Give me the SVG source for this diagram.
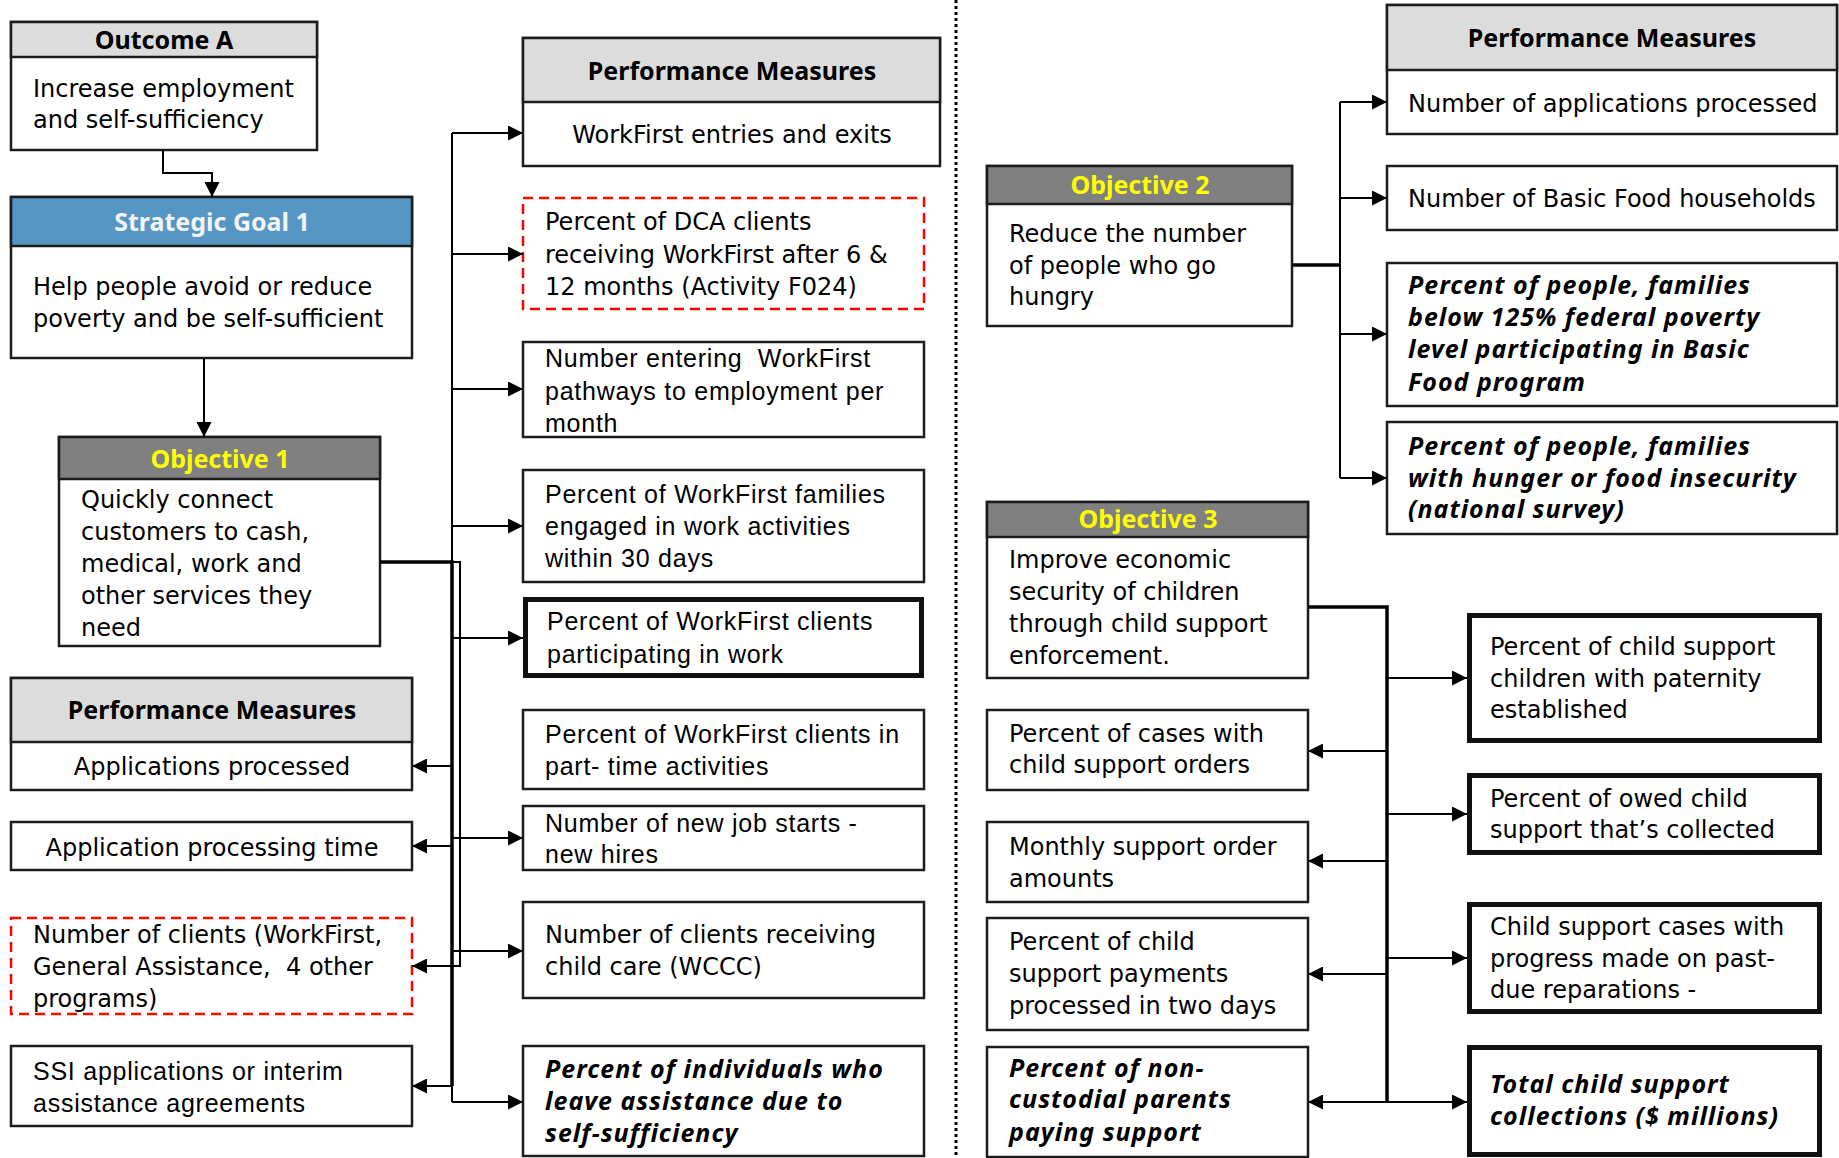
<svg xmlns="http://www.w3.org/2000/svg" width="1839" height="1158" viewBox="0 0 1839 1158">
  <style>
    .box { fill: #fff; stroke: #1c1c1c; stroke-width: 2.5; }
    .heavy { fill: #fff; stroke: #111; stroke-width: 5; }
    .dash { fill: #fff; stroke: #ff0000; stroke-width: 2.5; stroke-dasharray: 10 6; }
    .hg { fill: #dcdcdc; stroke: #1c1c1c; stroke-width: 2.5; }
    .ho { fill: #808080; stroke: #1c1c1c; stroke-width: 2.5; }
    .hb { fill: #5596c4; stroke: #1c1c1c; stroke-width: 2.5; }
    .t { font-family: "DejaVu Sans", sans-serif; font-size: 24px; fill: #000; white-space: pre; }
    .h { font-family: "Liberation Sans", Arial, sans-serif; font-size: 25px; letter-spacing: 0.75px; fill: #000; white-space: pre; }
    .b { font-family: "Noto Sans", sans-serif; font-weight: 700; font-size: 25px; fill: #000; }
    .bi { font-family: "Noto Sans", sans-serif; font-weight: 700; font-style: italic; font-size: 25px; letter-spacing: 1px; fill: #000; }
    .yel { fill: #ffff00; }
    .wht { fill: #f4f4f4; }
    .c { text-anchor: middle; }
    .ln { fill: none; stroke: #000; stroke-width: 2; }
    .lnk { fill: none; stroke: #000; stroke-width: 3.5; }
  </style>
  <defs>
    <marker id="arr" markerUnits="userSpaceOnUse" markerWidth="15" markerHeight="15" refX="15" refY="7.5" orient="auto">
      <path d="M0,0 L15,7.5 L0,15 Z" fill="#000"/>
    </marker>
  </defs>

  <!-- divider between the two halves -->
  <line x1="956" y1="0" x2="956" y2="1158" stroke="#000" stroke-width="3" stroke-dasharray="3 3"/>

  <!-- ===== left half ===== -->
  <g id="outcome-a">
    <rect class="box" x="11" y="22" width="306" height="128"/>
    <rect class="hg" x="11" y="22" width="306" height="35"/>
    <text class="b c" x="164" y="49">Outcome A</text>
    <text class="t" x="33" y="97">Increase employment</text>
    <text class="t" x="33" y="128">and self-sufficiency</text>
  </g>

  <g id="strategic-goal-1">
    <rect class="box" x="11" y="197" width="401" height="161"/>
    <rect class="hb" x="11" y="197" width="401" height="49"/>
    <text class="b c wht" x="212" y="231">Strategic Goal 1</text>
    <text class="t" x="33" y="295">Help people avoid or reduce</text>
    <text class="t" x="33" y="327">poverty and be self-sufficient</text>
  </g>

  <g id="objective-1">
    <rect class="box" x="59" y="437" width="321" height="209"/>
    <rect class="ho" x="59" y="437" width="321" height="42"/>
    <text class="b c yel" x="220" y="468">Objective 1</text>
    <text class="t" x="81" y="508">Quickly connect</text>
    <text class="t" x="81" y="540">customers to cash,</text>
    <text class="t" x="81" y="572">medical, work and</text>
    <text class="t" x="81" y="604">other services they</text>
    <text class="t" x="81" y="636">need</text>
  </g>

  <g id="pm-left">
    <rect class="box" x="11" y="678" width="401" height="112"/>
    <rect class="hg" x="11" y="678" width="401" height="64"/>
    <text class="b c" x="212" y="719">Performance Measures</text>
    <text class="t c" x="212" y="775">Applications processed</text>
  </g>

  <g id="application-time">
    <rect class="box" x="11" y="822" width="401" height="48"/>
    <text class="t c" x="212" y="856">Application processing time</text>
  </g>

  <g id="clients-count">
    <rect class="dash" x="11" y="918" width="401" height="96"/>
    <text class="t" x="33" y="943">Number of clients (WorkFirst,</text>
    <text class="t" x="33" y="975">General Assistance,  4 other</text>
    <text class="t" x="33" y="1007">programs)</text>
  </g>

  <g id="ssi">
    <rect class="box" x="11" y="1046" width="401" height="80"/>
    <text class="h" x="33" y="1080">SSI applications or interim</text>
    <text class="h" x="33" y="1112">assistance agreements</text>
  </g>

  <g id="pm-middle">
    <rect class="box" x="523" y="38" width="417" height="128"/>
    <rect class="hg" x="523" y="38" width="417" height="64"/>
    <text class="b c" x="732" y="80">Performance Measures</text>
    <text class="t c" x="732" y="143">WorkFirst entries and exits</text>
  </g>

  <g id="dca-clients">
    <rect class="dash" x="523" y="198" width="401" height="111"/>
    <text class="t" x="545" y="230">Percent of DCA clients</text>
    <text class="t" x="545" y="263">receiving WorkFirst after 6 &amp;</text>
    <text class="t" x="545" y="295">12 months (Activity F024)</text>
  </g>

  <g id="pathways">
    <rect class="box" x="523" y="342" width="401" height="95"/>
    <text class="h" x="545" y="367">Number entering  WorkFirst</text>
    <text class="h" x="545" y="400">pathways to employment per</text>
    <text class="h" x="545" y="432">month</text>
  </g>

  <g id="families-engaged">
    <rect class="box" x="523" y="470" width="401" height="112"/>
    <text class="h" x="545" y="503">Percent of WorkFirst families</text>
    <text class="h" x="545" y="535">engaged in work activities</text>
    <text class="h" x="545" y="567">within 30 days</text>
  </g>

  <g id="clients-working">
    <rect class="heavy" x="525.5" y="599.5" width="396" height="76"/>
    <text class="h" x="547" y="630">Percent of WorkFirst clients</text>
    <text class="h" x="547" y="663">participating in work</text>
  </g>

  <g id="part-time">
    <rect class="box" x="523" y="710" width="401" height="79"/>
    <text class="h" x="545" y="743">Percent of WorkFirst clients in</text>
    <text class="h" x="545" y="775">part- time activities</text>
  </g>

  <g id="new-job-starts">
    <rect class="box" x="523" y="806" width="401" height="64"/>
    <text class="h" x="545" y="832">Number of new job starts -</text>
    <text class="h" x="545" y="863">new hires</text>
  </g>

  <g id="child-care">
    <rect class="box" x="523" y="902" width="401" height="96"/>
    <text class="t" x="545" y="943">Number of clients receiving</text>
    <text class="t" x="545" y="975">child care (WCCC)</text>
  </g>

  <g id="leave-assistance">
    <rect class="box" x="523" y="1046" width="401" height="110"/>
    <text class="bi" x="545" y="1078">Percent of individuals who</text>
    <text class="bi" x="545" y="1110">leave assistance due to</text>
    <text class="bi" x="545" y="1142">self-sufficiency</text>
  </g>

  <!-- ===== right half ===== -->
  <g id="pm-right">
    <rect class="box" x="1387" y="5" width="450" height="129"/>
    <rect class="hg" x="1387" y="5" width="450" height="65"/>
    <text class="b c" x="1612" y="47">Performance Measures</text>
    <text class="t" x="1408" y="112">Number of applications processed</text>
  </g>

  <g id="basic-food">
    <rect class="box" x="1387" y="166" width="450" height="64"/>
    <text class="t" x="1408" y="207">Number of Basic Food households</text>
  </g>

  <g id="below-poverty">
    <rect class="box" x="1387" y="263" width="450" height="143"/>
    <text class="bi" x="1408" y="294">Percent of people, families</text>
    <text class="bi" x="1408" y="326">below 125% federal poverty</text>
    <text class="bi" x="1408" y="358">level participating in Basic</text>
    <text class="bi" x="1408" y="391">Food program</text>
  </g>

  <g id="food-insecurity">
    <rect class="box" x="1387" y="422" width="450" height="112"/>
    <text class="bi" x="1408" y="455">Percent of people, families</text>
    <text class="bi" x="1408" y="487">with hunger or food insecurity</text>
    <text class="bi" x="1408" y="518">(national survey)</text>
  </g>

  <g id="objective-2">
    <rect class="box" x="987" y="166" width="305" height="160"/>
    <rect class="ho" x="987" y="166" width="305" height="38"/>
    <text class="b c yel" x="1140" y="194">Objective 2</text>
    <text class="t" x="1009" y="242">Reduce the number</text>
    <text class="t" x="1009" y="274">of people who go</text>
    <text class="t" x="1009" y="305">hungry</text>
  </g>

  <g id="objective-3">
    <rect class="box" x="987" y="502" width="321" height="176"/>
    <rect class="ho" x="987" y="502" width="321" height="35"/>
    <text class="b c yel" x="1148" y="528">Objective 3</text>
    <text class="t" x="1009" y="568">Improve economic</text>
    <text class="t" x="1009" y="600">security of children</text>
    <text class="t" x="1009" y="632">through child support</text>
    <text class="t" x="1009" y="664">enforcement.</text>
  </g>

  <g id="support-orders">
    <rect class="box" x="987" y="710" width="321" height="80"/>
    <text class="t" x="1009" y="742">Percent of cases with</text>
    <text class="t" x="1009" y="773">child support orders</text>
  </g>

  <g id="monthly-orders">
    <rect class="box" x="987" y="822" width="321" height="80"/>
    <text class="t" x="1009" y="855">Monthly support order</text>
    <text class="t" x="1009" y="887">amounts</text>
  </g>

  <g id="payments-processed">
    <rect class="box" x="987" y="918" width="321" height="112"/>
    <text class="t" x="1009" y="950">Percent of child</text>
    <text class="t" x="1009" y="982">support payments</text>
    <text class="t" x="1009" y="1014">processed in two days</text>
  </g>

  <g id="parents-paying">
    <rect class="box" x="987" y="1047" width="321" height="110"/>
    <text class="bi" x="1009" y="1077">Percent of non-</text>
    <text class="bi" x="1009" y="1108">custodial parents</text>
    <text class="bi" x="1009" y="1141">paying support</text>
  </g>

  <g id="paternity">
    <rect class="heavy" x="1469.5" y="615.5" width="350" height="125"/>
    <text class="t" x="1490" y="655">Percent of child support</text>
    <text class="t" x="1490" y="687">children with paternity</text>
    <text class="t" x="1490" y="718">established</text>
  </g>

  <g id="owed-collected">
    <rect class="heavy" x="1469.5" y="775.5" width="350" height="77"/>
    <text class="t" x="1490" y="807">Percent of owed child</text>
    <text class="t" x="1490" y="838">support that’s collected</text>
  </g>

  <g id="past-due">
    <rect class="heavy" x="1469.5" y="904.5" width="350" height="107"/>
    <text class="t" x="1490" y="935">Child support cases with</text>
    <text class="t" x="1490" y="967">progress made on past-</text>
    <text class="t" x="1490" y="998">due reparations -</text>
  </g>

  <g id="total-collections">
    <rect class="heavy" x="1469.5" y="1047.5" width="350" height="107"/>
    <text class="bi" x="1490" y="1093">Total child support</text>
    <text class="bi" x="1490" y="1125">collections ($ millions)</text>
  </g>

  <!-- ===== connectors ===== -->
  <g id="connectors">
    <path class="ln" d="M163,150 V173 H212 V197" marker-end="url(#arr)"/>
    <path class="ln" d="M204,358 V437" marker-end="url(#arr)"/>

    <!-- objective 1 trunk -->
    <path class="ln" d="M452,133 V1102"/>
    <path class="lnk" d="M380,562 H452 V1086"/>
    <path class="ln" d="M452,562 H460 V966 H412" marker-end="url(#arr)"/>
    <path class="ln" d="M452,133 H523" marker-end="url(#arr)"/>
    <path class="ln" d="M452,254 H523" marker-end="url(#arr)"/>
    <path class="ln" d="M452,389 H523" marker-end="url(#arr)"/>
    <path class="ln" d="M452,526 H523" marker-end="url(#arr)"/>
    <path class="ln" d="M452,638 H523" marker-end="url(#arr)"/>
    <path class="ln" d="M452,838 H523" marker-end="url(#arr)"/>
    <path class="ln" d="M452,951 H523" marker-end="url(#arr)"/>
    <path class="ln" d="M452,1102 H523" marker-end="url(#arr)"/>
    <path class="ln" d="M452,766 H412" marker-end="url(#arr)"/>
    <path class="ln" d="M452,846 H412" marker-end="url(#arr)"/>
    <path class="ln" d="M452,1086 H412" marker-end="url(#arr)"/>

    <!-- objective 2 trunk -->
    <path class="lnk" d="M1292,265 H1340"/>
    <path class="ln" d="M1340,102 V478"/>
    <path class="ln" d="M1340,102 H1387" marker-end="url(#arr)"/>
    <path class="ln" d="M1340,198 H1387" marker-end="url(#arr)"/>
    <path class="ln" d="M1340,334 H1387" marker-end="url(#arr)"/>
    <path class="ln" d="M1340,478 H1387" marker-end="url(#arr)"/>

    <!-- objective 3 trunk -->
    <path class="lnk" d="M1308,607 H1387 V1102"/>
    <path class="ln" d="M1387,678 H1467" marker-end="url(#arr)"/>
    <path class="ln" d="M1387,814 H1467" marker-end="url(#arr)"/>
    <path class="ln" d="M1387,958 H1467" marker-end="url(#arr)"/>
    <path class="ln" d="M1387,1102 H1467" marker-end="url(#arr)"/>
    <path class="ln" d="M1387,751 H1308" marker-end="url(#arr)"/>
    <path class="ln" d="M1387,861 H1308" marker-end="url(#arr)"/>
    <path class="ln" d="M1387,974 H1308" marker-end="url(#arr)"/>
    <path class="ln" d="M1387,1102 H1308" marker-end="url(#arr)"/>
  </g>
</svg>
